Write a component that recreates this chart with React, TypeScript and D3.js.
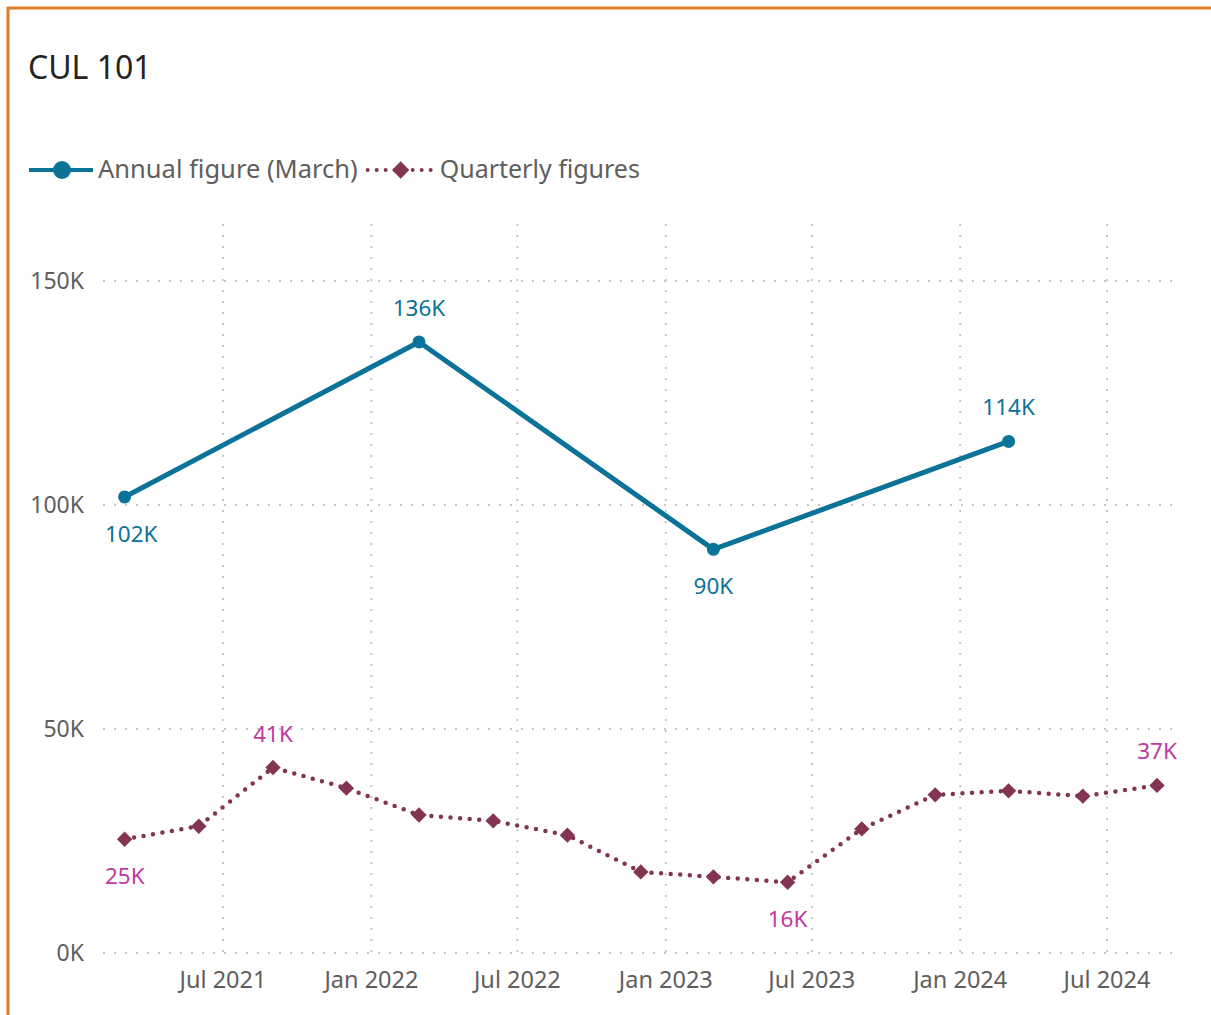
import React, { useEffect, useRef } from "react";
import * as d3 from "d3";

const title = "CUL 101";
const seriesNames = ["Annual figure (March)", "Quarterly figures"];
const annualDates = ["2021-03-01", "2022-03-01", "2023-03-01", "2024-03-01"];
const annualValues = [101800, 136400, 90100, 114200];
const quarterlyDates = [
  "2021-03-01", "2021-06-01", "2021-09-01", "2021-12-01",
  "2022-03-01", "2022-06-01", "2022-09-01", "2022-12-01",
  "2023-03-01", "2023-06-01", "2023-09-01", "2023-12-01",
  "2024-03-01", "2024-06-01", "2024-09-01",
];
const quarterlyValues = [
  25400, 28300, 41400, 36800,
  30800, 29500, 26300, 18100,
  17000, 15800, 27700, 35300,
  36200, 35000, 37400,
];
const annualLabelIdx = [0, 1, 2, 3];
const annualLabelPos = ["below", "above", "below", "above"];
const quarterlyLabelIdx = [0, 2, 9, 14];
const quarterlyLabelPos = ["below", "above", "below", "above"];
const yTicks = [0, 50000, 100000, 150000];

const FONT = "'Segoe UI', 'Noto Sans', 'Open Sans', sans-serif";
const W = 1211;
const H = 1015;
const C_ANNUAL = "#0B7298";
const C_Q = "#833452";
const C_QLABEL = "#C0399E";
const C_TEXT = "#605E5C";
const C_GRID = "#C8C6C4";

const parse = d3.timeParse("%Y-%m-%d");

export default function App() {
  const ref = useRef<SVGSVGElement | null>(null);
  useEffect(() => {
    const svg = d3.select(ref.current);
    svg.selectAll("*").remove();

    const plotLeft = 103;
    const plotRight = 1176;
    const plotTop = 224;
    const x = d3
      .scaleTime()
      .domain([parse("2021-07-01")!, parse("2024-07-01")!])
      .range([223, 1107]);
    const y = d3.scaleLinear().domain([0, 150000]).range([953, 281]);
    const fmtK = (v: number) => `${Math.round(v / 1000)}K`;

    // frame
    svg.append("rect").attr("x", 8).attr("y", 8).attr("width", W).attr("height", H)
      .attr("fill", "white").attr("stroke", "#E07B27").attr("stroke-width", 3);

    // title
    svg.append("text").attr("x", 28).attr("y", 79).text(title)
      .attr("font-family", FONT).attr("font-size", 32).attr("fill", "#252423");

    // legend
    const lg = svg.append("g");
    lg.append("line").attr("x1", 29).attr("x2", 93).attr("y1", 170).attr("y2", 170)
      .attr("stroke", C_ANNUAL).attr("stroke-width", 4);
    lg.append("circle").attr("cx", 62).attr("cy", 170).attr("r", 9).attr("fill", C_ANNUAL);
    const t1 = lg.append("text").attr("x", 98).attr("y", 178).text(seriesNames[0])
      .attr("font-family", FONT).attr("font-size", 25.5).attr("fill", C_TEXT);
    const end1 = 98 + (t1.node() as SVGTextElement).getComputedTextLength();
    const lx = end1 + 10;
    lg.append("line").attr("x1", lx).attr("x2", lx + 66).attr("y1", 170).attr("y2", 170)
      .attr("stroke", C_Q).attr("stroke-width", 4).attr("stroke-linecap", "round")
      .attr("stroke-dasharray", "0 9");
    lg.append("path").attr("d", d3.symbol(d3.symbolDiamond2, 190)())
      .attr("transform", `translate(${lx + 33},170)`).attr("fill", C_Q);
    lg.append("text").attr("x", lx + 72).attr("y", 178).text(seriesNames[1])
      .attr("font-family", FONT).attr("font-size", 25).attr("fill", C_TEXT);

    // gridlines
    const xTicks = x.ticks(d3.timeMonth.every(6)!);
    svg.append("g").selectAll("line").data(yTicks).join("line")
      .attr("x1", plotLeft).attr("x2", plotRight)
      .attr("y1", (d) => y(d)).attr("y2", (d) => y(d))
      .attr("stroke", C_GRID).attr("stroke-width", 2).attr("stroke-dasharray", "2 9");
    svg.append("g").selectAll("line").data(xTicks).join("line")
      .attr("x1", (d) => x(d)).attr("x2", (d) => x(d))
      .attr("y1", plotTop).attr("y2", y(0))
      .attr("stroke", C_GRID).attr("stroke-width", 2).attr("stroke-dasharray", "2 9");

    // axis labels
    svg.append("g").selectAll("text").data(yTicks).join("text")
      .attr("x", 84).attr("y", (d) => y(d) + 8).attr("text-anchor", "end")
      .text((d) => fmtK(d)).attr("font-family", FONT).attr("font-size", 23).attr("fill", C_TEXT);
    svg.append("g").selectAll("text").data(xTicks).join("text")
      .attr("x", (d) => x(d)).attr("y", 988).attr("text-anchor", "middle")
      .text((d) => d3.timeFormat("%b %Y")(d)).attr("font-family", FONT).attr("font-size", 23.5).attr("fill", C_TEXT);

    const annual = annualDates.map((d, i) => ({ date: parse(d)!, value: annualValues[i] }));
    const quarterly = quarterlyDates.map((d, i) => ({ date: parse(d)!, value: quarterlyValues[i] }));

    const line = d3.line<{ date: Date; value: number }>().x((d) => x(d.date)).y((d) => y(d.value));

    // quarterly
    svg.append("path").datum(quarterly).attr("d", line).attr("fill", "none")
      .attr("stroke", C_Q).attr("stroke-width", 4.5).attr("stroke-linecap", "round")
      .attr("stroke-dasharray", "0 9.6");
    svg.append("g").selectAll("path").data(quarterly).join("path")
      .attr("d", d3.symbol(d3.symbolDiamond2, 150)())
      .attr("transform", (d) => `translate(${x(d.date)},${y(d.value)})`).attr("fill", C_Q);

    // annual
    svg.append("path").datum(annual).attr("d", line).attr("fill", "none")
      .attr("stroke", C_ANNUAL).attr("stroke-width", 5).attr("stroke-linejoin", "round");
    svg.append("g").selectAll("circle").data(annual).join("circle")
      .attr("cx", (d) => x(d.date)).attr("cy", (d) => y(d.value)).attr("r", 6.5).attr("fill", C_ANNUAL);

    // data labels
    const addLabels = (data: { date: Date; value: number }[], idx: number[], pos: string[], color: string) => {
      idx.forEach((k, j) => {
        const d = data[k];
        const t = svg.append("text").text(fmtK(d.value))
          .attr("font-family", FONT).attr("font-size", 22.5).attr("fill", color)
          .attr("text-anchor", "middle")
          .attr("y", y(d.value) + (pos[j] === "below" ? 45 : -26));
        const w = (t.node() as SVGTextElement).getComputedTextLength();
        const cx = Math.max(x(d.date), plotLeft + 2 + w / 2);
        t.attr("x", cx);
      });
    };
    addLabels(annual, annualLabelIdx, annualLabelPos, C_ANNUAL);
    addLabels(quarterly, quarterlyLabelIdx, quarterlyLabelPos, C_QLABEL);
  }, []);

  return (
    <svg ref={ref} width={W} height={H} style={{ position: "absolute", left: 0, top: 0, display: "block" }} />
  );
}
